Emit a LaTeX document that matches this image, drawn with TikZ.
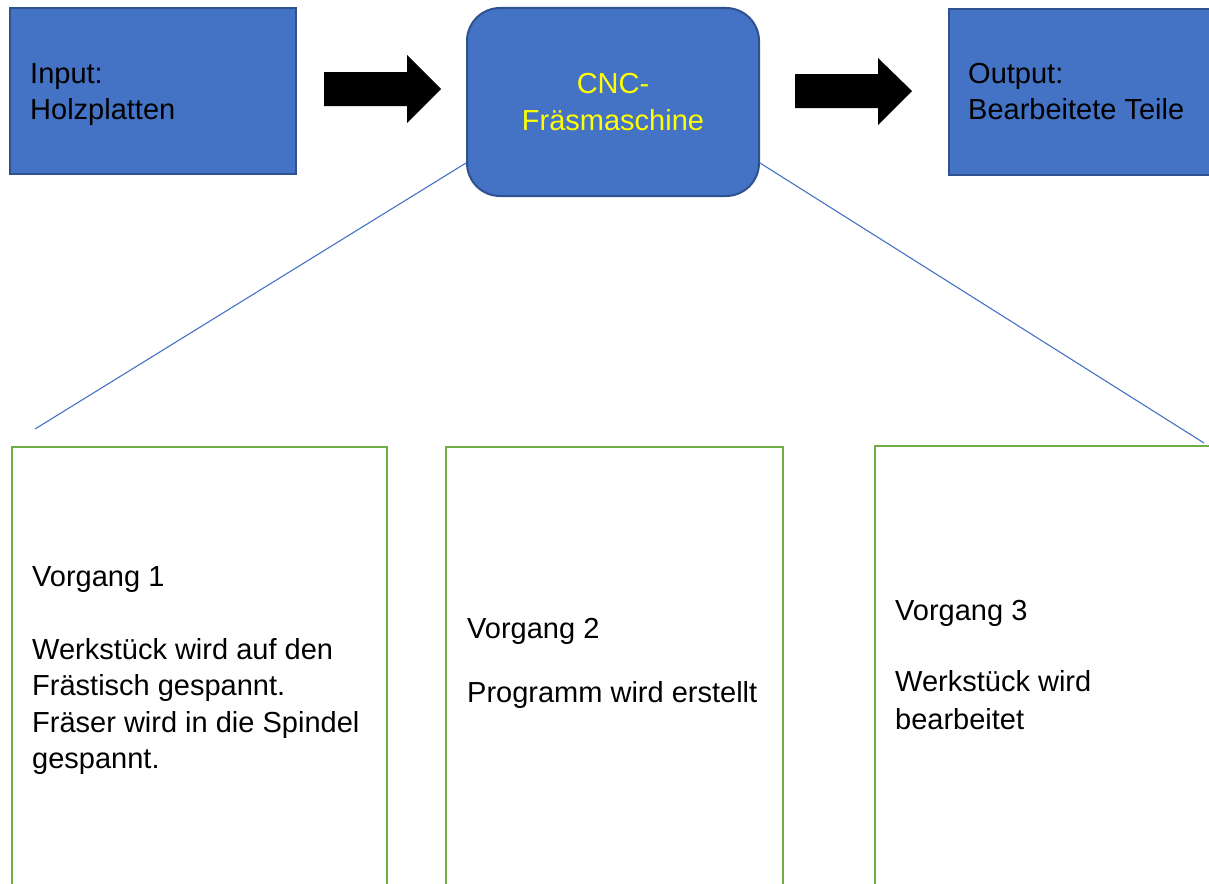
\documentclass[tikz,border=0pt]{standalone}
\usepackage{fontspec}
\setmainfont{Liberation Sans}
\definecolor{bfill}{HTML}{4472C4}
\definecolor{bdraw}{HTML}{2F528F}
\definecolor{gdraw}{HTML}{70AD47}
\definecolor{ytext}{HTML}{FFFF00}
\tikzset{
  bluebox/.style={rectangle, fill=bfill, draw=bdraw, line width=2pt, inner sep=0pt},
  greenbox/.style={rectangle, draw=gdraw, line width=2.2pt, inner sep=0pt},
  txt/.style={anchor=base west, inner sep=0pt, font=\fontsize{29}{36}\selectfont},
  blockarrow/.style={fill=black},
  linkline/.style={draw=bfill, line width=1.1pt}
}
\begin{document}
\begin{tikzpicture}[x=1pt,y=-1pt]
\useasboundingbox (0,0) rectangle (1209,883);
% top boxes
\node[bluebox, minimum width=286pt, minimum height=166pt] (in) at (153,91) {};
\node[bluebox, rounded corners=33pt, minimum width=292pt, minimum height=188pt] (cnc) at (613,102) {};
\node[bluebox, minimum width=270pt, minimum height=166pt, anchor=north west] (out) at (948,8) {};
% texts top
\node[txt] (tin) at (30,83) {\vtop{\baselineskip=36pt\hbox{Input:}\hbox{Holzplatten}}};
\node[txt] (tout) at (968,83) {\vtop{\baselineskip=36pt\hbox{Output:}\hbox{Bearbeitete Teile}}};
\node[txt, anchor=base, text=ytext] (tcnc) at (613,93) {\vtop{\baselineskip=37pt\hbox to 0pt{\hss CNC-\hss}\hbox to 0pt{\hss Fräsmaschine\hss}}};
% block arrows
\coordinate (a1) at (324,72);
\fill[blockarrow] (a1) -- (407,72) -- (407,55) -- (441,89) -- (407,123) -- (407,106) -- (324,106) -- cycle;
\coordinate (a2) at (795,74);
\fill[blockarrow] (a2) -- (878,74) -- (878,58) -- (912,91) -- (878,125) -- (878,108) -- (795,108) -- cycle;
% bottom boxes
\node[greenbox, minimum width=375pt, minimum height=460pt, anchor=north west] (v1) at (11,446) {};
\node[greenbox, minimum width=337pt, minimum height=460pt, anchor=north west] (v2) at (445,446) {};
\node[greenbox, minimum width=360pt, minimum height=460pt, anchor=north west] (v3) at (874,445) {};
% bottom texts
\node[txt] (tv1) at (32,586) {\vtop{\baselineskip=36.5pt\hbox{Vorgang 1}\vskip36.5pt\hbox{Werkstück wird auf den}\hbox{Frästisch gespannt.}\hbox{Fräser wird in die Spindel}\hbox{gespannt.}}};
\node[txt] (tv2) at (467,638) {\vtop{\baselineskip=36.5pt\hbox{Vorgang 2}\vskip27.5pt\hbox{Programm wird erstellt}}};
\node[txt] (tv3) at (895,620) {\vtop{\baselineskip=37.5pt\hbox{Vorgang 3}\vskip34pt\hbox{Werkstück wird}\hbox{bearbeitet}}};
% connector lines
\coordinate (cl) at (466,163);
\coordinate (cr) at (760,163);
\coordinate (e1) at (35,429);
\coordinate (e3) at (1204,443);
\draw[linkline] (cl) -- (e1);
\draw[linkline] (cr) -- (e3);
\end{tikzpicture}
\end{document}
